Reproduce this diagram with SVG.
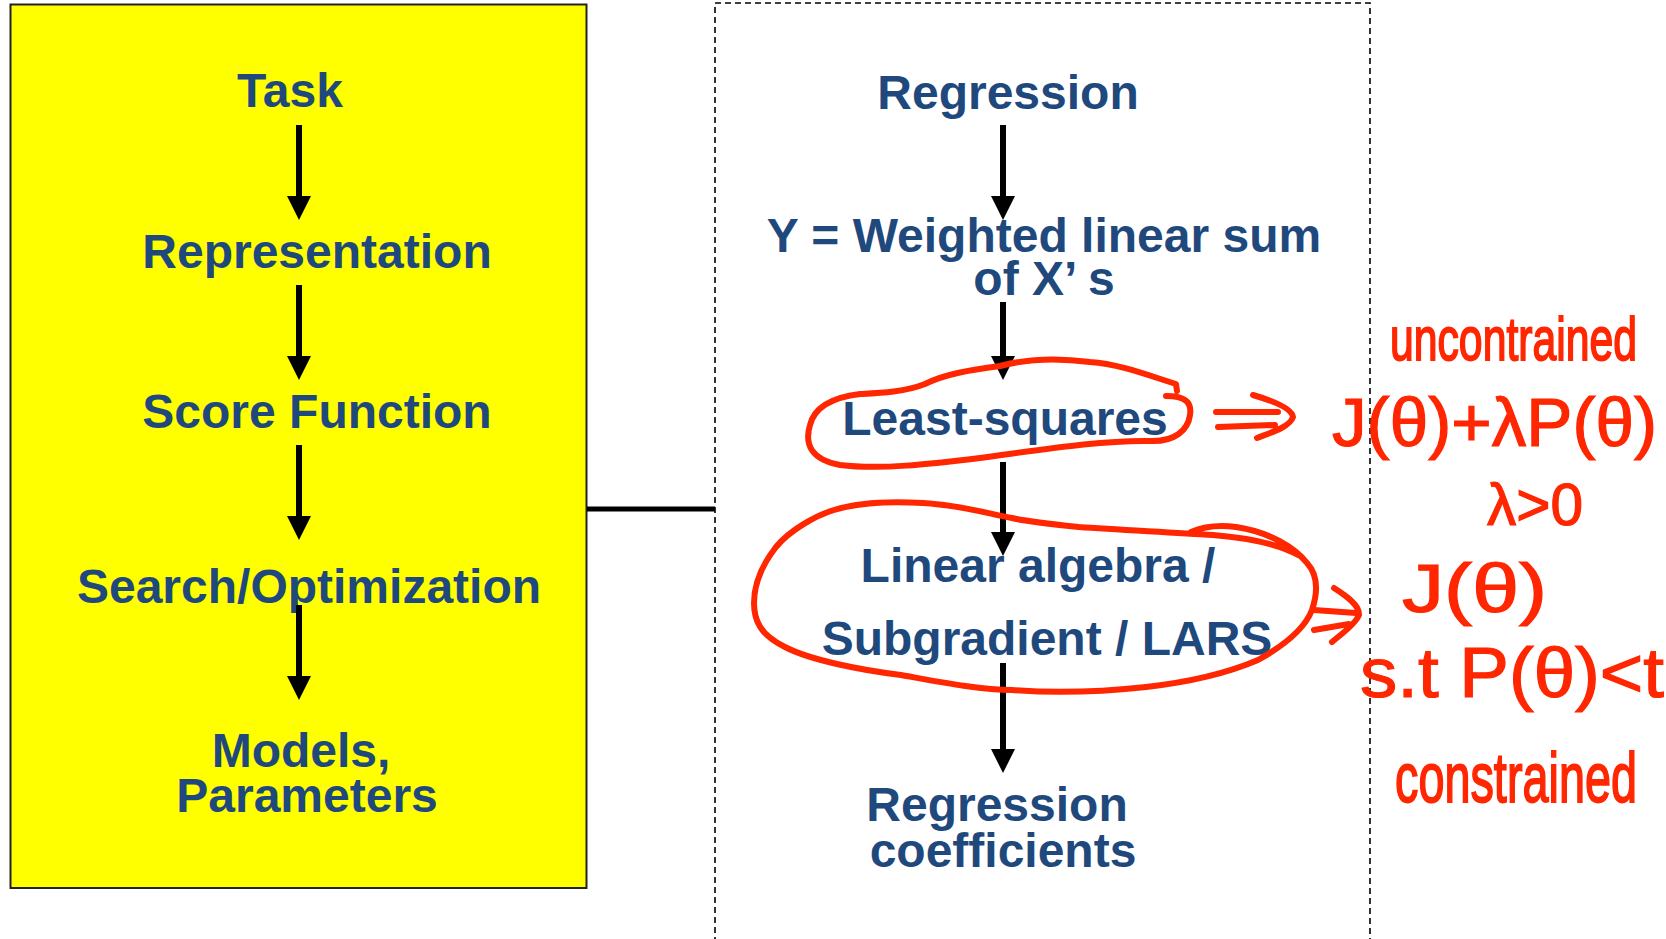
<svg xmlns="http://www.w3.org/2000/svg" width="1666" height="939" viewBox="0 0 1666 939">
  <style>
    .lbl { font-family: "Liberation Sans", Arial, sans-serif; font-weight: bold; font-size: 48px; fill: #1F497D; text-anchor: middle; }
    .shaft { stroke: #000; stroke-width: 6; fill: none; marker-end: url(#head); }
    .ink { stroke: #FF2600; stroke-width: 6; fill: none; stroke-linecap: round; stroke-linejoin: round; }
    .note { font-family: "Liberation Sans", Arial, sans-serif; fill: #FF2600; stroke: #FF2600; stroke-width: 1.2; }
  </style>
  <defs>
    <marker id="head" viewBox="0 0 24 24" markerWidth="24" markerHeight="24" refX="2" refY="12" orient="auto" markerUnits="userSpaceOnUse">
      <path d="M0,0 L24,12 L0,24 z" fill="#000"/>
    </marker>
  </defs>

  <rect id="white-bg" x="0" y="0" width="1666" height="939" fill="#fff"/>

  <!-- left panel: generic data-mining pipeline -->
  <g id="pipeline-panel">
    <rect x="10.5" y="4.5" width="576" height="883.5" fill="#FFFF00" stroke="#222" stroke-width="2"/>
  </g>
  <g id="node-task"><text class="lbl" x="290" y="107">Task</text></g>
  <g id="node-representation"><text class="lbl" x="317" y="268">Representation</text></g>
  <g id="node-score"><text class="lbl" x="317" y="428">Score Function</text></g>
  <g id="node-search"><text class="lbl" x="309" y="603">Search/Optimization</text></g>
  <g id="node-models">
    <text class="lbl" x="301" y="767">Models,</text>
    <text class="lbl" x="307" y="812">Parameters</text>
  </g>

  <!-- right panel: regression instance -->
  <g id="regression-panel">
    <rect x="715" y="3" width="655" height="980" fill="none" stroke="#000" stroke-width="1.6" stroke-dasharray="6 4"/>
  </g>
  <g id="node-regression"><text class="lbl" x="1008" y="109">Regression</text></g>
  <g id="node-weighted">
    <text class="lbl" x="1044" y="252">Y = Weighted linear sum</text>
    <text class="lbl" x="1044" y="295">of X’ s</text>
  </g>
  <g id="node-least-squares"><text class="lbl" x="1005" y="435">Least-squares</text></g>
  <g id="node-solvers">
    <text class="lbl" x="1038" y="582">Linear algebra /</text>
    <text class="lbl" x="1047" y="655">Subgradient / LARS</text>
  </g>
  <g id="node-coefficients">
    <text class="lbl" x="997" y="821">Regression</text>
    <text class="lbl" x="1003" y="867">coefficients</text>
  </g>

  <g id="connectors">
    <line class="shaft" x1="299" y1="125" x2="299" y2="198"/>
    <line class="shaft" x1="299" y1="285" x2="299" y2="358"/>
    <line class="shaft" x1="299" y1="445" x2="299" y2="518"/>
    <line class="shaft" x1="299" y1="605" x2="299" y2="678"/>

    <line class="shaft" x1="1003" y1="125" x2="1003" y2="198"/>
    <line class="shaft" x1="1003" y1="302" x2="1003" y2="358"/>
    <line class="shaft" x1="1003" y1="462" x2="1003" y2="534"/>
    <line class="shaft" x1="1003" y1="663" x2="1003" y2="751"/>

    <line x1="587" y1="509" x2="715" y2="509" stroke="#000" stroke-width="5"/>
  </g>

  <!-- hand-drawn annotations -->
  <g id="annotation-unconstrained">
    <path class="ink" d="M1177,391 L1176,384 C1150,376 1120,364 1090,362 C1060,358 1030,358 1000,366 C970,370 945,374 925,384 C905,392 880,393 860,394 C835,397 815,405 810,425 C804,445 812,460 840,465 C880,470 930,464 980,458 C1040,450 1100,440 1150,441 C1175,442 1188,430 1190,415 C1192,402 1185,396 1166,396"/>
    <path class="ink" d="M1216,412 L1278,412 M1218,427 L1275,425 M1253,395 C1270,400 1292,408 1293,417 C1290,427 1270,433 1257,438"/>
    <text class="note" transform="translate(1390,360) scale(1,1.55)" x="0" y="0" font-size="40" textLength="247" lengthAdjust="spacingAndGlyphs">uncontrained</text>
    <text class="note" x="1332" y="446" font-size="68" textLength="325" lengthAdjust="spacingAndGlyphs">J(θ)+λP(θ)</text>
    <text class="note" x="1487" y="525" font-size="60" textLength="96" lengthAdjust="spacingAndGlyphs">λ&gt;0</text>
  </g>

  <g id="annotation-constrained">
    <path class="ink" d="M1298,555 C1280,545 1250,538 1213,535 C1170,532 1120,530 1079,527 C1050,524 1030,522 1012,518 C990,514 960,505 923,503 C890,501 860,502 834,510 C815,516 790,530 776,547 C762,565 754,585 754,603 C754,620 760,635 785,647 C810,660 860,670 901,675 C940,682 980,690 1012,690 C1050,693 1100,692 1146,687 C1190,682 1230,672 1258,660 C1285,645 1305,628 1312,610 C1318,592 1318,575 1307,563 C1295,548 1270,532 1236,527 C1220,525 1205,526 1191,532"/>
    <path class="ink" d="M1314,610 L1356,613 M1314,630 L1349,624 M1334,588 C1345,595 1360,605 1359,615 C1355,625 1340,635 1332,642"/>
    <text class="note" x="1402" y="612" font-size="68" textLength="145" lengthAdjust="spacingAndGlyphs">J(θ)</text>
    <text class="note" x="1360" y="697" font-size="70" textLength="304" lengthAdjust="spacingAndGlyphs">s.t P(θ)&lt;t</text>
    <text class="note" transform="translate(1395,802) scale(1,1.55)" x="0" y="0" font-size="46" textLength="242" lengthAdjust="spacingAndGlyphs">constrained</text>
  </g>
</svg>
